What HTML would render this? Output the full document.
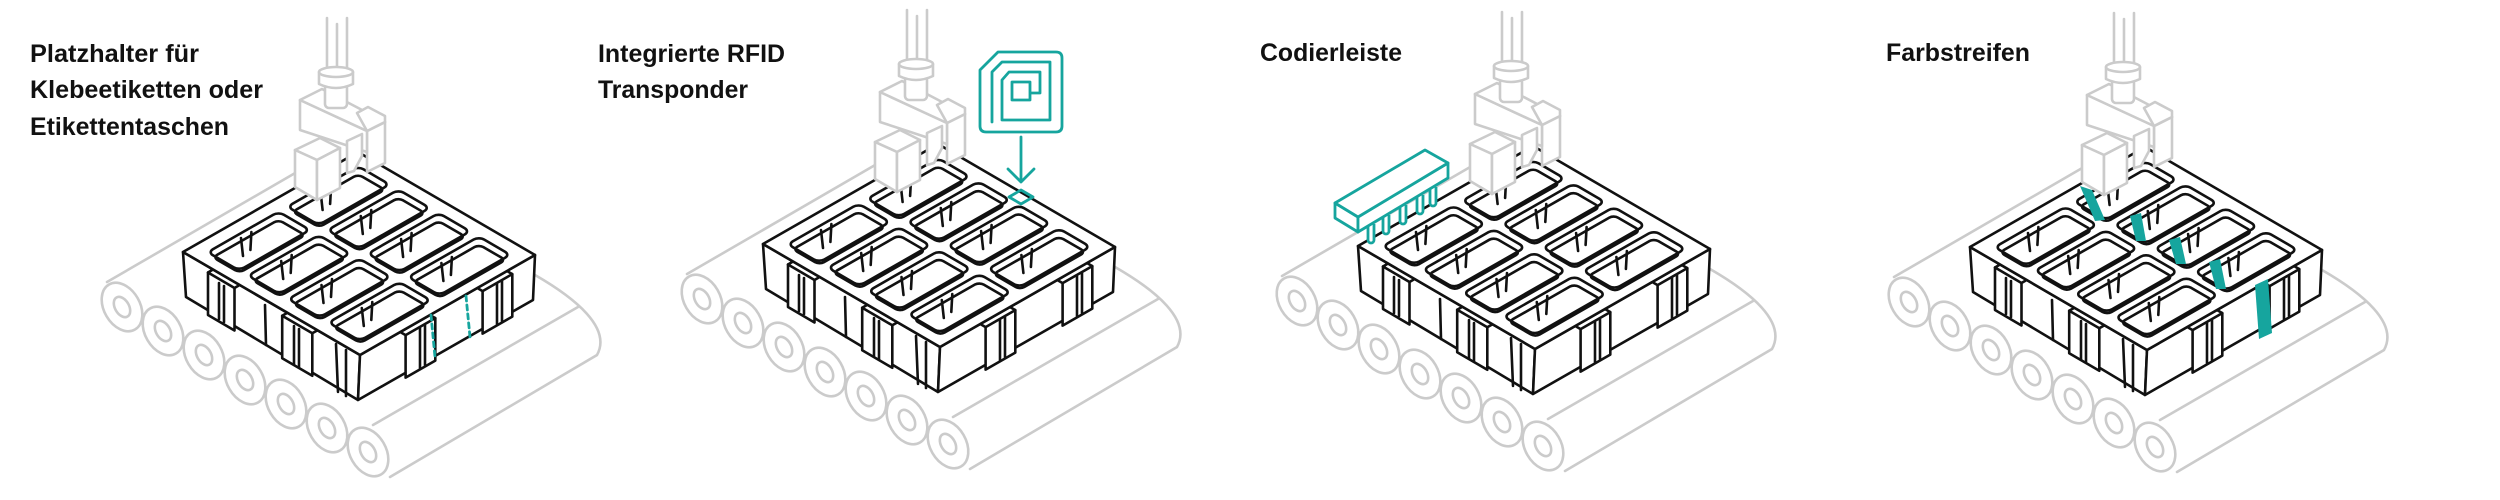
<!DOCTYPE html>
<html><head><meta charset="utf-8"><style>
html,body{margin:0;padding:0;background:#fff;width:2500px;height:500px;overflow:hidden}
svg{display:block}
.t{font-family:"Liberation Sans",sans-serif;font-weight:bold;font-size:25px;fill:#111}
.g{fill:#fff;stroke:#cbcbcb;stroke-width:2.6;stroke-linejoin:round;stroke-linecap:round}
.gl{fill:none;stroke:#cbcbcb;stroke-width:2.6;stroke-linecap:round}
.k{fill:#fff;stroke:#111;stroke-width:2.6;stroke-linejoin:round;stroke-linecap:round}
.kl{fill:none;stroke:#111;stroke-width:2.6;stroke-linecap:round}
.c{fill:none;stroke:#111;stroke-width:2.6;vector-effect:non-scaling-stroke}
.teal{fill:none;stroke:#16a59e;stroke-width:2.8;stroke-linejoin:round;stroke-linecap:round}
.tealf{fill:#fff;stroke:#16a59e;stroke-width:2.8;stroke-linejoin:round}
</style></head><body>
<svg width="2500" height="500" viewBox="0 0 2500 500" xmlns="http://www.w3.org/2000/svg">
<defs>
<g id="panel">
  <!-- belt -->
  <path d="M107,282 L328,154 L535,275 C575,298 612,328 597,355 L390,477 L368,478 L110,330 Z" fill="#fff" stroke="none"/>
  <path class="gl" d="M107,282 L328,154 L535,275 C575,298 612,328 597,355 L390,477"/>
  <path class="gl" d="M373,425 L578,307"/>
  <!-- rollers -->
  <g>
    <ellipse class="g" cx="122" cy="307" rx="18" ry="26" transform="rotate(-30 122 307)"/>
    <ellipse class="g" cx="122" cy="307" rx="7" ry="11" transform="rotate(-30 122 307)"/>
    <ellipse class="g" cx="163" cy="331" rx="18" ry="26" transform="rotate(-30 163 331)"/>
    <ellipse class="g" cx="163" cy="331" rx="7" ry="11" transform="rotate(-30 163 331)"/>
    <ellipse class="g" cx="204" cy="355" rx="18" ry="26" transform="rotate(-30 204 355)"/>
    <ellipse class="g" cx="204" cy="355" rx="7" ry="11" transform="rotate(-30 204 355)"/>
    <ellipse class="g" cx="245" cy="380" rx="18" ry="26" transform="rotate(-30 245 380)"/>
    <ellipse class="g" cx="245" cy="380" rx="7" ry="11" transform="rotate(-30 245 380)"/>
    <ellipse class="g" cx="286" cy="404" rx="18" ry="26" transform="rotate(-30 286 404)"/>
    <ellipse class="g" cx="286" cy="404" rx="7" ry="11" transform="rotate(-30 286 404)"/>
    <ellipse class="g" cx="327" cy="428" rx="18" ry="26" transform="rotate(-30 327 428)"/>
    <ellipse class="g" cx="327" cy="428" rx="7" ry="11" transform="rotate(-30 327 428)"/>
    <ellipse class="g" cx="368" cy="452" rx="18" ry="26" transform="rotate(-30 368 452)"/>
    <ellipse class="g" cx="368" cy="452" rx="7" ry="11" transform="rotate(-30 368 452)"/>
  </g>
  <!-- tray walls -->
  <polygon class="k" points="183,252 360,355 358,400 186,297"/>
  <polygon class="k" points="360,355 535,255 533,300 358,400"/>
  <!-- lugs -->
  <polygon class="k" points="213,269.5 208,272.5 208,315 234.5,330.5 234.5,288 239.6,285"/>
  <path class="kl" d="M208,272.5 L234.5,288 M219,283 L219,319 M224,286 L224,322"/>
  <polygon class="k" points="287.4,312.8 282.2,315.8 282.2,358.3 312.3,375.8 312.3,333.3 317.5,330.3"/>
  <path class="kl" d="M282.2,315.8 L312.3,333.3 M294,326 L294,364 M299,329 L299,367"/>
  <polygon class="k" points="400.3,332 405.6,335.1 405.6,377.6 435.3,360.6 435.3,318.1 430,315"/>
  <path class="kl" d="M405.6,335.1 L435.3,318.1 M420,328 L420,368 M425,325 L425,365"/>
  <polygon class="k" points="477.3,288 482.6,291.1 482.6,333.6 512.3,316.6 512.3,274.1 507,271"/>
  <path class="kl" d="M482.6,291.1 L512.3,274.1 M497,284 L497,324 M502,281 L502,321"/>
  <path class="kl" d="M336,344 L338,392 M346,350 L346,396 M265,305 L266,345"/>
  <!-- top face -->
  <polygon class="k" points="183,252 360,355 535,255 358,152"/>
  <g transform="matrix(177,103,175,-100,183,252)">
    <rect class="c" fill="#fff" x="0.07" y="0.07" width="0.1775" height="0.405" rx="0.03" ry="0.03"/>
    <rect class="c" fill="#fff" x="0.07" y="0.525" width="0.1775" height="0.405" rx="0.03" ry="0.03"/>
    <rect class="c" fill="#fff" x="0.2975" y="0.07" width="0.1775" height="0.405" rx="0.03" ry="0.03"/>
    <rect class="c" fill="#fff" x="0.2975" y="0.525" width="0.1775" height="0.405" rx="0.03" ry="0.03"/>
    <rect class="c" fill="#fff" x="0.525" y="0.07" width="0.1775" height="0.405" rx="0.03" ry="0.03"/>
    <rect class="c" fill="#fff" x="0.525" y="0.525" width="0.1775" height="0.405" rx="0.03" ry="0.03"/>
    <rect class="c" fill="#fff" x="0.7525" y="0.07" width="0.1775" height="0.405" rx="0.03" ry="0.03"/>
    <rect class="c" fill="#fff" x="0.7525" y="0.525" width="0.1775" height="0.405" rx="0.03" ry="0.03"/>
  </g>
  <g transform="translate(0,5)">
   <g transform="matrix(177,103,175,-100,183,252)">
    <rect class="c" x="0.085" y="0.085" width="0.15" height="0.375" rx="0.025" ry="0.025"/>
    <rect class="c" x="0.085" y="0.54" width="0.15" height="0.375" rx="0.025" ry="0.025"/>
    <rect class="c" x="0.3125" y="0.085" width="0.15" height="0.375" rx="0.025" ry="0.025"/>
    <rect class="c" x="0.3125" y="0.54" width="0.15" height="0.375" rx="0.025" ry="0.025"/>
    <rect class="c" x="0.54" y="0.085" width="0.15" height="0.375" rx="0.025" ry="0.025"/>
    <rect class="c" x="0.54" y="0.54" width="0.15" height="0.375" rx="0.025" ry="0.025"/>
    <rect class="c" x="0.7675" y="0.085" width="0.15" height="0.375" rx="0.025" ry="0.025"/>
    <rect class="c" x="0.7675" y="0.54" width="0.15" height="0.375" rx="0.025" ry="0.025"/>
   </g>
  </g>
  <!-- ribs -->
  <path class="kl" d="M241,238 l2,18 M251.4,232 l-1,18 M320.6,192 l2,18 M331.1,186 l-1,18
   M281.2,261 l2,18 M291.7,255 l-1,18 M360.8,216 l2,18 M371.3,210 l-1,18
   M321.5,285 l2,18 M332,279 l-1,18 M401.1,239 l2,18 M411.6,233 l-1,18
   M361.8,308 l2,18 M372.3,302 l-1,18 M441.4,263 l2,18 M451.9,257 l-1,18"/>
  <!-- gripper -->
  <path class="gl" d="M327,18 L327,70 M337,24 L337,70 M347,18 L347,70"/>
  <polygon class="g" points="367,131 385,122 385,163 367,172"/>
  <polygon class="g" points="300,100 367,131 367,152 300,130"/>
  <polygon class="g" points="300,100 322,89 385,122 367,131"/>
  <polygon class="g" points="357,113 368,107 385,116 385,122 367,131"/>
  <rect class="g" x="325" y="84" width="22" height="24" rx="4"/>
  <path class="g" d="M319,72 L319,84 Q336,92 353,84 L353,72 Z"/>
  <ellipse class="g" cx="336" cy="72" rx="17" ry="5"/>
  <polygon class="g" points="347,141 362,134 362,156 354,171 347,173"/>
  <polygon class="g" points="295,150 320,138 340,148 317,160"/>
  <polygon class="g" points="295,150 317,160 317,200 295,187"/>
  <polygon class="g" points="317,160 340,148 340,188 317,200"/>
</g>
</defs>

<use href="#panel"/>
<use href="#panel" transform="translate(580,-8)"/>
<use href="#panel" transform="translate(1175,-6)"/>
<use href="#panel" transform="translate(1787,-5)"/>

<!-- panel 1 dashed -->
<path class="teal" stroke-dasharray="5,4" d="M431,315 L435,357 M466,296 L470,337"/>

<!-- panel 2 RFID -->
<path class="teal" d="M980,70 L998,52 L1056,52 Q1062,52 1062,58 L1062,126 Q1062,132 1056,132 L986,132 Q980,132 980,126 Z"/>
<path class="teal" d="M992,122 L992,72 L1002,62 L1050,62 L1050,120 L1002,120 L1002,80 L1009,72 L1040,72 L1040,93 L1031,93"/>
<rect class="teal" x="1012" y="82" width="18" height="18"/>
<path class="teal" d="M1021,137 L1021,181 M1008,169 L1021,182 L1034,169"/>
<polygon class="teal" points="1009,197 1021,190 1033,197 1021,204" fill="#fff"/>

<!-- panel 3 coding strip -->
<g>
  <path class="tealf" d="M1368,224 v16 a3,3 0 0 0 6,0 v-16 M1383,215 v16 a3,3 0 0 0 6,0 v-16 M1400,205 v16 a3,3 0 0 0 6,0 v-16 M1417,195 v16 a3,3 0 0 0 6,0 v-16 M1430,187 v16 a3,3 0 0 0 6,0 v-16"/>
  <polygon class="tealf" points="1335,203 1358,217 1358,232 1335,218"/>
  <polygon class="tealf" points="1358,217 1448,163 1448,178 1358,232"/>
  <polygon class="tealf" points="1335,203 1425,150 1448,163 1358,217"/>
</g>

<!-- panel 4 stripes -->
<g fill="#16a59e">
  <polygon points="2080,186 2092,190 2105,220 2095,221"/>
  <polygon points="2130,216 2141,213 2146,241 2136,241"/>
  <polygon points="2169,240 2180,237 2186,264 2176,264"/>
  <polygon points="2209,262 2220,259 2226,289 2216,289"/>
  <polygon points="2255,285 2268,279 2272,333 2259,339"/>
</g>

<!-- titles -->
<text class="t" x="30" y="62" textLength="169" lengthAdjust="spacingAndGlyphs">Platzhalter für</text>
<text class="t" x="30" y="98" textLength="233" lengthAdjust="spacingAndGlyphs">Klebeetiketten oder</text>
<text class="t" x="30" y="135" textLength="199" lengthAdjust="spacingAndGlyphs">Etikettentaschen</text>
<text class="t" x="598" y="62" textLength="187" lengthAdjust="spacingAndGlyphs">Integrierte RFID</text>
<text class="t" x="598" y="98" textLength="150" lengthAdjust="spacingAndGlyphs">Transponder</text>
<text class="t" x="1260" y="61" textLength="142" lengthAdjust="spacingAndGlyphs">Codierleiste</text>
<text class="t" x="1886" y="61" textLength="144" lengthAdjust="spacingAndGlyphs">Farbstreifen</text>
</svg>
</body></html>
